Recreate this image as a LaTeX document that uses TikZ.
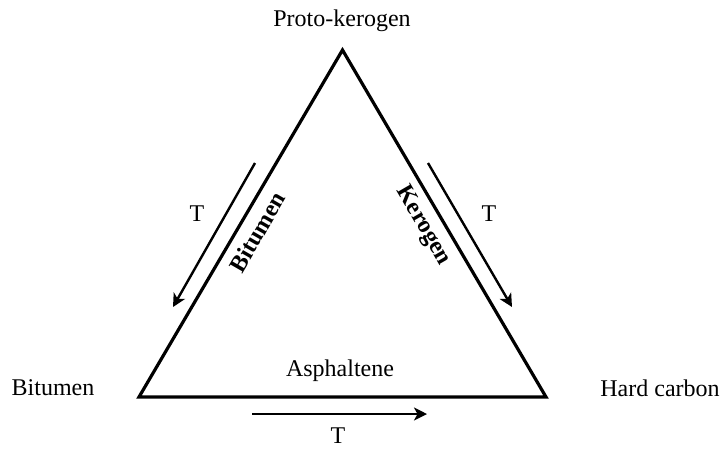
\documentclass[tikz,border=0pt]{standalone}
\usepackage{fontspec}
\setmainfont{Liberation Serif}
\usetikzlibrary{arrows.meta}
\newcommand{\lbl}{\fontsize{24}{28}\selectfont}

\begin{document}
\begin{tikzpicture}[x=1pt,y=-1pt,font=\lbl,
  edge/.style={line width=3.2pt,line join=miter},
  flow/.style={line width=2.4pt,-{Stealth[length=13pt,width=13pt,inset=3.5pt]}},
  side/.style={font=\lbl\bfseries,inner sep=0}]
\useasboundingbox (0,0) rectangle (722,448);
% corners of the triangle
\coordinate (bit) at (139,397);
\coordinate (hard) at (546,397);
\coordinate (proto) at (342.5,50);
\draw[edge] (bit) -- (proto) -- (hard) -- cycle;
% corner and side labels
\node[inner sep=0] (protolbl) at (342,21) {Proto-kerogen};
\node[inner sep=0] (bitlbl) at (53,388) {Bitumen};
\node[inner sep=0] (hardlbl) at (660,388) {Hard carbon};
\node[inner sep=0] (asph) at (340,371) {Asphaltene};
\node[side,rotate=60] (bitside) at (257,232) {Bitumen};
\node[side,rotate=-60] (kerside) at (423,226) {Kerogen};
% temperature arrows
\coordinate (la0) at (255,163); \coordinate (la1) at (173,307);
\draw[flow] (la0) -- (la1);
\node[inner sep=0] (tleft) at (197,214) {T};
\coordinate (ra0) at (428,163); \coordinate (ra1) at (512,307);
\draw[flow] (ra0) -- (ra1);
\node[inner sep=0] (tright) at (489,214) {T};
\coordinate (ba0) at (252,414); \coordinate (ba1) at (427,414);
\draw[flow] (ba0) -- (ba1);
\node[inner sep=0] (tbottom) at (338,436) {T};
\end{tikzpicture}
\end{document}
